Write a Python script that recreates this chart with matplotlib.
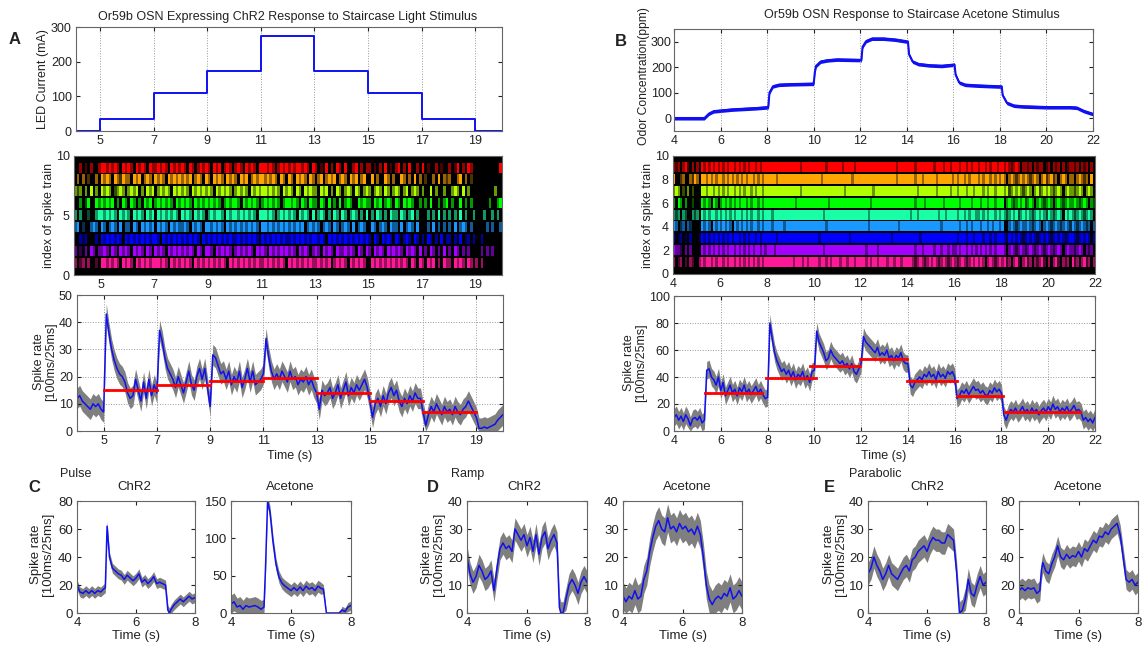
import numpy as np
import matplotlib
matplotlib.use("Agg")
import matplotlib.pyplot as plt

plt.rcParams['font.family'] = ['Liberation Sans', 'DejaVu Sans']
plt.rcParams['font.size'] = 9

# ---------------- DATA ----------------
# Panel A stimulus (LED current steps)
a_step_t = [4.0, 5, 7, 9, 11, 13, 15, 17, 19, 20]
a_step_mA = [0, 35, 110, 174, 274, 174, 110, 35, 0, 0]

# Panel B stimulus (acetone concentration keyframes)
b_stim_t = [4.0, 5.3, 5.5, 5.7, 6.5, 7.5, 8.05, 8.1, 8.25, 8.5, 9.0, 10.0, 10.05, 10.1, 10.3, 10.6,
            11.0, 12.05, 12.1, 12.25, 12.5, 13.0, 13.5, 14.05, 14.1, 14.25, 14.5, 15.0, 15.5, 16.05,
            16.1, 16.25, 16.5, 17.0, 18.08, 18.12, 18.3, 18.6, 19.0, 20.0, 21.0, 21.3, 21.6, 22.0]
b_stim_ppm = [0, 0, 18, 27, 34, 39, 43, 100, 125, 131, 133, 135, 180, 205, 222, 227,
              230, 228, 280, 302, 312, 312, 308, 300, 250, 222, 212, 207, 205, 210,
              170, 140, 131, 128, 124, 90, 60, 49, 46, 43, 43, 41, 28, 16]

# Panel A spike rate (0.1 s samples from 4.0 to 20.0 s)
a_rate = [12, 13, 11, 10, 9, 8, 10, 9, 10, 8,
          7, 43, 36, 30, 26, 23, 21, 20, 18, 14,
          12, 13, 19, 15, 11, 18, 12, 19, 13, 17,
          14, 37, 33, 27, 23, 21, 19, 16, 20, 17,
          14, 18, 22, 17, 15, 20, 23, 19, 23, 16,
          9, 28, 27, 24, 21, 22, 19, 22, 17, 20,
          18, 22, 16, 19, 23, 18, 22, 17, 18, 19,
          21, 34, 27, 22, 19, 21, 19, 22, 20, 18,
          22, 19, 20, 17, 19, 18, 20, 17, 19, 16,
          14, 8, 15, 13, 14, 16, 12, 14, 17, 12,
          15, 18, 13, 16, 14, 17, 15, 17, 19, 16,
          11, 5, 10, 12, 9, 13, 10, 14, 16, 13,
          15, 11, 9, 12, 10, 13, 11, 14, 12, 12,
          7, 2, 6, 9, 7, 10, 8, 6, 9, 7,
          8, 6, 9, 7, 6, 8, 9, 11, 9, 7,
          5, 1, 1, 1.5, 1, 1.5, 2, 2.5, 4, 5,
          6]
a_band = 3.8
a_mean_start = [5, 7, 9, 11, 13, 15, 17]
a_mean_end = [7, 9, 11, 13, 15, 17, 19]
a_mean_val = [15, 17, 18.5, 19.5, 14, 11, 7]

# Panel B spike rate (0.1 s samples from 4.0 to 22.0 s)
b_rate = [10, 12, 8, 11, 7, 12, 9, 4, 9, 10,
          8, 11, 6, 8, 45, 46, 40, 38, 34, 40,
          30, 36, 26, 30, 34, 28, 31, 26, 32, 29,
          34, 28, 31, 27, 30, 33, 28, 31, 27, 24,
          25, 80, 68, 58, 52, 48, 44, 46, 42, 45,
          40, 44, 38, 42, 40, 44, 38, 41, 36, 44,
          45, 74, 66, 62, 58, 52, 54, 60, 56, 54,
          52, 50, 52, 48, 50, 46, 50, 44, 42, 46,
          50, 70, 66, 64, 62, 60, 58, 62, 56, 58,
          56, 60, 54, 56, 52, 56, 54, 58, 52, 50,
          50, 34, 32, 36, 38, 40, 38, 42, 40, 44,
          40, 42, 38, 44, 40, 42, 39, 44, 42, 44,
          40, 24, 26, 30, 28, 31, 27, 30, 33, 30,
          31, 28, 30, 27, 26, 30, 28, 32, 29, 31,
          28, 12, 8, 13, 16, 14, 17, 13, 15, 18,
          14, 16, 13, 17, 14, 16, 12, 15, 17, 14,
          18, 15, 20, 16, 18, 14, 17, 15, 18, 14,
          16, 19, 15, 16, 14, 8, 10, 7, 9, 6,
          10]
b_band = 6.5
b_mean_start = [5.31, 7.95, 9.8, 11.97, 13.97, 16.08, 18.15]
b_mean_end = [7.78, 10.05, 11.97, 13.97, 16.08, 18.05, 21.36]
b_mean_val = [28, 39, 48, 53.5, 37, 26, 14]

# Raster rows (0.1 s bins; ' '=none, '.'=dim, '+'=medium, '#'=bright), bottom row first
raster_levels = {' ': 0.0, '.': 0.3, '+': 0.6, '#': 1.0}
raster_colors = [(1.0, 0.1, 0.6), (0.65, 0.0, 1.0), (0.0, 0.0, 1.0), (0.1, 0.6, 1.0), (0.1, 1.0, 0.65),
                 (0.0, 1.0, 0.0), (0.7, 1.0, 0.0), (1.0, 0.65, 0.0), (1.0, 0.0, 0.0)]
a_raster = [
    ("+ .+ +  . " "##+#+#+ #+" "#+ #+#+#+#" "##+#+ #+#+" "#+#+ #+#+#" "+#+#+#+ #+" "#+#+#+#+#+" "+#+#+#+#+ "
     "#+#+#+#+#+" "+#+#+# +#+" "#+ #+#+#+ " " #+#+#+#+#" "+#+#+ #+ #" "+ #+# + #+" "+ #+#+ #+ " "+ +       "),
    ("+ . + #+ +" "+#+ #+ #+#" "+ #+#+ #+ " "#+#+ #+#+#" "+#+#+ #+ #" "#+ #+#+#+ " "+#+#+#+ #+" "#+ #+#+#+#"
     "+#+ #+#+ +" "#+ #+#+ #+" "+#+#+ #+ #" "+ #+#+ #+#" "+#+ #+#+ #" " + #+ + # " "+ #+ + +  " "  + + +   "),
    ("  +.+   + " "#+#+#+#+ #" "+#+#+#+#+#" "#+ #+#+#+#" "+#+#+#+ #+" "#+#+#+#+#+" "+#+#+#+#+ " "#+#+#+#+#+"
     "+#+#+#+#+#" "#+#+ #+#+#" "+#+#+#+#+#" "+ #+ #+#+ " "#+ +#+ #+ " "+ #+ + # +" "+ + # .+ +" "  +       "),
    ("+# .  +#+ " "#+ +#+ # +" "+ #+ #+#+#" " #+#+ #+#+" "+#+ #+#+ #" "#+#+#+ #+#" "+#+#+#+#+ " "##+#+#+#+#"
     "+#+#+# +#+" "#+ +#+ #+ " "+#+ # +#+ " " #+ +#+ #+" "+ # +#+ # " "  + # + + " "+ # +#+ + " "    + +  +"),
    ("+ +  .  +#" "#+#+#+ #+#" "+ #+#+ #+#" " #+#+#+#+ " "#+#+ #+#+ " "+#+##+ #+#" "#+#+#+#+ #" "##+#+ +#+#"
     "+#+ #+#+ #" " +#+ + #+ " "#+ +#+ + #" " + #+ + #+" "+ #+ +# + " "  + + # + " "+ + # +  +" "   +  + + "),
    ("  + .#  #+" "#+#+# + #+" " #+ + #+# " "+#+#+#+ #+" "#+#+ #+#+#" "+#+#+ +#+#" "#+ #+#+#+ " "+#+#+#+ +#"
     "#+#+ #+ #+" "+ #+ # + #" " +#+  #+#+" "+ #+# +#+ " "#+ #+#+  +" " + #  + +#" " +  # + + " "     +  +#"),
    ("+.+ + # + " "#+#+ .+#+ " "+#+# + #+#" " +#+#+ #+#" "+#+ #+#+#+" "#+ #+#+#+ " "+#+#+ #+#+" "##+#+#+ #+"
     "#+ #+ #+#+" "+ #+# + #+" " +#+ #+ +#" "+ +#+ #+ +" "#+ +# +#+ " "+  # +  + " " +#+ # +  " "       +  "),
    (" + + .  + " "#+#+ #+.#+" "+ #+# +#+ " "#+#+ #+#+#" "+#+# +#+ #" "+ #+#+ #+#" "+ #+# +#+#" "#+#+#+ #+ "
     "#+ #+#+ #+" " +# +#+# +" "#+ #+# +# " " # +  #+ +" "  #+ + # +" " .  + # +." "+  +# + . " "          "),
    ("  + . +  +" "##+#+#+ #+" "#+ #+#+ #+" "+#+#+ #+#+" "#+ #+ +#+#" "+ #+# +#+ " "+#+ #+#+ #" "##+#+ +#+#"
     "+#+##+#+ #" "+ . # + #+" " #  +# + +" "+ . + # . " "+# + #  + " "# .  + .  " "+ .# + #+ " "         #"),
]
b_raster = [
    ("+ .+ . +. " " +#+##+#+#" "#+#+##+#+#" "+#+#+#+#+#" "##########" "#+###+#+##" "##+##+#+##" "#+##+##+##" "##+#+##+##"
     "#+##+##+##" "##+.+#+.+#" "+#+.+#+.+#" "+.+#+.+#+#" "+#+ +#+.+#" "+#.+ +#. +" "#.+ +.+#. " "+ +#. +.+ " "#.+ +#.+ +"),
    ("#++. + +  " "  #+#+#+#+" "#+#+##+#+#" "+#+#+##+#+" "###+######" "##########" "####+#####" "##########" "##+####+##"
     "##########" "###+##+###" "#+##+##+#+" "+#+##+#+#+" "#+#+#+#+##" "#+ +#+.+#+" ".+#+.+#+.+" "#+.+#+ +#+" "+.+#+ +.+ "),
    ("+ .+ . +  " " .#+#+#+#+" "#+#+#+##+#" "+#+##+#+##" "####+#####" "##########" "##+#######" "#####+####" "##########"
     "###+######" "#####+####" "##########" "#+###+##+#" "##+##+#+##" "#+.#+#+#+." "+#+#+.+#+#" "+.+#+#+.+#" "#+.+#+#+ +"),
    ("#+ .+ +.  " "  #+#+ #+#" "+#+#+ #+#+" "#+#+##+#+#" "##+####+##" "##########" "#####+####" "##########" "###+######"
     "######+###" "##########" "####+#####" "##+##+#+##" "#+##+#+##+" "#  +#+.+#+" "+#+.+#+ +#" "+.+#+.+#+." "#+.+#+.+ +"),
    ("+.+ +.  +." "+ #+#+##+#" "+#+#+#+##+" "#+#+##+#+#" "##+#######" "##########" "####+#####" "##########" "###+######"
     "##########" "#+##+#####" "###+##+###" "#+##+#+##+" "+#+#+##+#+" "#+.+#+#.+#" "+#+.+#+#+." "#+.+#+ #+#" "+.+#+.+#+ "),
    ("+ #+ +  . " "  #+#+ #+ " "+#+#+#+#+#" "#+#+##+#+#" "##########" "##+#######" "######+###" "##########" "####+#####"
     "##########" "###+###+##" "#####+####" "##+####+##" "#+##+##+##" "# +#+.+#+#" ".+#+ +#+.+" "#+ +#+.+#+" "+#+.+#+ +."),
    ("+#+ . + . " "  ##+##+#+" "#+#+##+#+#" "+##+#+##+#" "##########" "####+#####" "##########" "###+######" "#####+####"
     "##########" "####+#####" "##+#####+#" "#+###+##+#" "##+#+##+##" "#+#.+#+#+." "+#+ +#.+#+" "#+.+#+ +#+" "+.+#+ +#+ "),
    ("#  .+  +.#" "+ ##+#+#+#" "#+#+#+#+#+" "#+##+#+#+#" "####+#####" "##########" "###+######" "######+###" "##########"
     "#####+####" "###+##+###" "##+######+" "#+##+#+###" "+#+##+#+#+" "#+ +#+.+#+" "#+.+#+ +#." "+#.+ +#+ +" "+ +#+.+ # "),
    ("+.+ +#. + " "+ #+#+#+#+" "#+#+##+#+#" "+#+##+#+##" "##########" "####+#####" "#####+####" "##+####+##" "##########"
     "#####+####" "###+######" "#+###+##+#" "##+##+#+##" "+##+#+##+#" "#+#+.+#+ +" "+.+ +.++ ." "+ +.+ + .+" "+.+ +.+ + "),
]

# Small panels (time, rate, band half-width)
c_chr2_t = [4.0, 4.1, 4.2, 4.3, 4.4, 4.5, 4.6, 4.7, 4.8, 4.9, 4.96, 5.02, 5.1, 5.2, 5.3, 5.4, 5.5, 5.6, 5.7, 5.8,
            5.9, 6.0, 6.1, 6.2, 6.3, 6.4, 6.5, 6.6, 6.7, 6.8, 6.9, 7.0, 7.08, 7.13, 7.2, 7.3, 7.4, 7.5, 7.6, 7.7,
            7.8, 7.9, 8.0]
c_chr2_r = [20, 15, 14, 16, 14, 16, 14, 16, 15, 17, 18, 62, 40, 32, 30, 28, 27, 24, 27, 25,
            23, 25, 28, 22, 24, 21, 23, 26, 21, 22, 21, 20, 2, 0, 3, 6, 8, 10, 8, 10,
            12, 10, 11]
c_chr2_w = 3.5
c_ace_t = [4.0, 4.1, 4.2, 4.3, 4.4, 4.5, 4.6, 4.7, 4.8, 4.9, 5.0, 5.1, 5.15, 5.22, 5.3, 5.4, 5.5, 5.6, 5.7, 5.8,
           5.9, 6.0, 6.1, 6.2, 6.3, 6.4, 6.5, 6.6, 6.7, 6.8, 6.9, 7.0, 7.08, 7.18, 7.6, 7.7, 7.8, 7.9, 8.0]
c_ace_r = [12, 15, 8, 10, 5, 10, 8, 9, 10, 8, 5, 8, 60, 150, 135, 95, 65, 48, 40, 36,
           33, 30, 34, 30, 35, 30, 36, 32, 34, 30, 36, 33, 32, 0, 0, 4, 2, 8, 10]
c_ace_w = [12, 12, 12, 12, 12, 12, 12, 12, 12, 12, 12, 10, 8, 8, 8, 8, 8, 8, 8, 8,
           8, 8, 8, 8, 8, 8, 8, 8, 8, 8, 8, 8, 6, 0, 0, 5, 5, 6, 6]
d_chr2_t = [4.0, 4.1, 4.2, 4.3, 4.4, 4.5, 4.6, 4.7, 4.8, 4.9, 5.0, 5.1, 5.2, 5.3, 5.4, 5.5, 5.6, 5.7, 5.8, 5.9,
            6.0, 6.1, 6.2, 6.3, 6.4, 6.5, 6.6, 6.7, 6.8, 6.9, 7.0, 7.08, 7.13, 7.2, 7.3, 7.4, 7.5, 7.6, 7.7, 7.8,
            7.9, 8.0]
d_chr2_r = [20, 14, 11, 13, 17, 15, 12, 13, 15, 8, 16, 23, 25, 23, 24, 22, 30, 28, 26, 28,
            24, 27, 22, 28, 21, 27, 29, 23, 26, 28, 25, 2, 0, 0, 5, 10, 12, 10, 7, 11,
            13, 11]
d_chr2_w = 4
d_ace_t = [4.0, 4.1, 4.2, 4.3, 4.4, 4.5, 4.6, 4.7, 4.8, 4.9, 5.0, 5.1, 5.2, 5.3, 5.4, 5.5, 5.6, 5.7, 5.8, 5.9,
           6.0, 6.1, 6.2, 6.3, 6.4, 6.5, 6.6, 6.7, 6.8, 6.9, 7.0, 7.1, 7.2, 7.3, 7.4, 7.5, 7.6, 7.7, 7.8, 7.9, 8.0]
d_ace_r = [6, 4, 6, 5, 8, 5, 6, 12, 15, 22, 27, 31, 33, 30, 29, 34, 30, 31, 29, 32,
           30, 31, 29, 30, 28, 31, 28, 20, 10, 5, 3, 5, 6, 5, 7, 6, 9, 5, 6, 8, 6]
d_ace_w = 5
e_chr2_t = [4.0, 4.1, 4.2, 4.3, 4.4, 4.5, 4.6, 4.7, 4.8, 4.9, 5.0, 5.1, 5.2, 5.3, 5.4, 5.5, 5.6, 5.7, 5.8, 5.9,
            6.0, 6.1, 6.2, 6.3, 6.4, 6.5, 6.6, 6.7, 6.8, 6.9, 7.0, 7.1, 7.2, 7.3, 7.4, 7.5, 7.6, 7.7, 7.8, 7.9, 8.0]
e_chr2_r = [14, 16, 20, 17, 15, 12, 14, 17, 14, 13, 12, 14, 16, 17, 15, 19, 20, 22, 23, 24,
            22, 25, 27, 26, 26, 25, 25, 28, 27, 26, 15, 0, 1, 5, 12, 7, 6, 10, 13, 10, 11]
e_chr2_w = 4
e_ace_t = [4.0, 4.1, 4.2, 4.3, 4.4, 4.5, 4.6, 4.7, 4.75, 4.8, 4.9, 5.0, 5.1, 5.2, 5.3, 5.4, 5.5, 5.6, 5.7, 5.8, 5.9,
           6.0, 6.1, 6.2, 6.3, 6.4, 6.5, 6.6, 6.7, 6.8, 6.9, 7.0, 7.1, 7.2, 7.3, 7.4, 7.5, 7.6, 7.7, 7.8, 7.9, 8.0]
e_ace_r = [16, 18, 16, 18, 17, 18, 14, 16, 30, 36, 30, 28, 35, 40, 48, 40, 38, 42, 39, 41, 40,
           44, 40, 46, 44, 48, 52, 50, 55, 54, 58, 56, 60, 62, 64, 56, 40, 24, 22, 24, 20, 22]
e_ace_w = 7

# ---------------- FIGURE ----------------
W, H = 1147, 646
fig = plt.figure(figsize=(W / 100, H / 100), dpi=100)
fig.patch.set_facecolor('white')

BLUE = '#1010f0'
GRAY = '#7f7f7f'
TXT = '#222222'


def axpx(l, t, r, b):
    return fig.add_axes([l / W, 1 - b / H, (r - l) / W, (b - t) / H])


def ftext(x, y, s, **kw):
    fig.text(x / W, 1 - y / H, s, color=TXT, **kw)


def style(ax):
    ax.tick_params(direction='in', length=3, top=True, right=True, labelsize=9, colors=TXT, pad=3)
    for sp in ax.spines.values():
        sp.set_color('#666666')
        sp.set_linewidth(0.8)


def draw_raster(ax, rows, t0, dt):
    ax.set_facecolor('black')
    for i, s in enumerate(rows):
        lv = np.array([raster_levels[c] for c in s])
        rgb = np.array(raster_colors[i])[None, :] * lv[:, None]
        ax.imshow(rgb[None, :, :], extent=[t0, t0 + len(s) * dt, i + 1 - 0.39, i + 1 + 0.39],
                  aspect='auto', interpolation='nearest')


def trace(ax, t, r, w):
    t = np.asarray(t, float)
    r = np.asarray(r, float)
    w = np.asarray(w, float) * np.ones_like(r)
    ax.fill_between(t, np.clip(r - w, 0, None), r + w, color=GRAY, lw=0)
    ax.plot(t, r, color=BLUE, lw=1.1)


# Panel A stimulus
ax = axpx(76, 27, 502, 131)
style(ax)
ax.step(a_step_t, a_step_mA, where='post', color=BLUE, lw=1.4)
ax.set_xlim(4.1, 20)
ax.set_ylim(0, 300)
ax.set_xticks(range(5, 20, 2))
ax.set_yticks([0, 100, 200, 300])
ax.grid(axis='x', ls=':', color='#999999', lw=0.7)

# Panel B stimulus
ax = axpx(674, 29, 1093, 131)
style(ax)
ax.tick_params(axis='y', pad=1.5)
ax.fill_between(b_stim_t, np.array(b_stim_ppm) - 7, np.array(b_stim_ppm) + 7, color=BLUE, lw=0)
ax.plot(b_stim_t, b_stim_ppm, color=BLUE, lw=1.5)
ax.set_xlim(4, 22)
ax.set_ylim(-50, 350)
ax.set_xticks(range(4, 23, 2))
ax.set_yticks([0, 100, 200, 300])
ax.grid(axis='x', ls=':', color='#999999', lw=0.7)

# Panel A raster
ax = axpx(74, 156, 502, 275)
style(ax)
draw_raster(ax, a_raster, 4.0, 0.1)
ax.set_xlim(4, 20)
ax.set_ylim(0, 10)
ax.set_xticks(range(5, 20, 2))
ax.set_yticks([0, 5, 10])
ax.tick_params(length=0)

# Panel B raster
ax = axpx(673, 156, 1095, 274)
style(ax)
draw_raster(ax, b_raster, 4.0, 0.1)
ax.set_xlim(4, 22)
ax.set_ylim(0, 10)
ax.set_xticks(range(4, 23, 2))
ax.set_yticks(range(0, 11, 2))
ax.tick_params(length=0)

# Panel A rate
ax = axpx(77, 295, 503, 431)
style(ax)
ta = 4.0 + 0.1 * np.arange(len(a_rate))
trace(ax, ta, a_rate, a_band)
for s, e, v in zip(a_mean_start, a_mean_end, a_mean_val):
    ax.plot([s, e], [v, v], color='#ff0000', lw=2)
ax.set_xlim(4, 20)
ax.set_ylim(0, 50)
ax.set_xticks(range(5, 20, 2))
ax.set_yticks(range(0, 51, 10))
ax.grid(ls=':', color='#999999', lw=0.7)

# Panel B rate
ax = axpx(674, 296, 1095, 431)
style(ax)
tb = 4.0 + 0.1 * np.arange(len(b_rate))
trace(ax, tb, b_rate, b_band)
for s, e, v in zip(b_mean_start, b_mean_end, b_mean_val):
    ax.plot([s, e], [v, v], color='#ff0000', lw=2)
ax.set_xlim(4, 22)
ax.set_ylim(0, 100)
ax.set_xticks(range(4, 23, 2))
ax.set_yticks(range(0, 101, 20))
ax.grid(ls=':', color='#999999', lw=0.7)

# Small panels
small = [
    ((77, 195), c_chr2_t, c_chr2_r, c_chr2_w, (0, 80), [0, 20, 40, 60, 80]),
    ((231, 351), c_ace_t, c_ace_r, c_ace_w, (0, 150), [0, 50, 100, 150]),
    ((467, 587), d_chr2_t, d_chr2_r, d_chr2_w, (0, 40), [0, 10, 20, 30, 40]),
    ((623, 742), d_ace_t, d_ace_r, d_ace_w, (0, 40), [0, 10, 20, 30, 40]),
    ((868, 986), e_chr2_t, e_chr2_r, e_chr2_w, (0, 40), [0, 10, 20, 30, 40]),
    ((1019, 1138), e_ace_t, e_ace_r, e_ace_w, (0, 80), [0, 20, 40, 60, 80]),
]
for (l, r), t, y, w, yl, yt in small:
    ax = axpx(l, 501, r, 613)
    style(ax)
    ax.tick_params(labelsize=9.5)
    trace(ax, t, y, w)
    ax.set_xlim(4, 8)
    ax.set_ylim(*yl)
    ax.set_xticks([4, 6, 8])
    ax.set_yticks(yt)
    ftext((l + r) / 2, 636, 'Time (s)', ha='center', va='center', fontsize=9.5)

# ---------------- TEXT ----------------
ftext(15, 39, 'A', fontsize=12, fontweight='bold', ha='center', va='center')
ftext(621, 41, 'B', fontsize=12, fontweight='bold', ha='center', va='center')
ftext(288, 17, 'Or59b OSN Expressing ChR2 Response to Staircase Light Stimulus', ha='center', va='center', fontsize=9)
ftext(912, 15, 'Or59b OSN Response to Staircase Acetone Stimulus', ha='center', va='center', fontsize=9)

ftext(43, 79, 'LED Current (mA)', rotation=90, ha='center', va='center', fontsize=9)
ftext(644, 76, 'Odor Concentration(ppm)', rotation=90, ha='center', va='center', fontsize=8.7)
ftext(49, 215, 'index of spike train', rotation=90, ha='center', va='center', fontsize=9)
ftext(648, 215, 'index of spike train', rotation=90, ha='center', va='center', fontsize=9)
ftext(45, 362, 'Spike rate\n[100ms/25ms]', rotation=90, ha='center', va='center', fontsize=9, linespacing=1.05)
ftext(635, 363, 'Spike rate\n[100ms/25ms]', rotation=90, ha='center', va='center', fontsize=9, linespacing=1.05)
ftext(290, 456, 'Time (s)', ha='center', va='center', fontsize=9)
ftext(884, 456, 'Time (s)', ha='center', va='center', fontsize=9)

ftext(42, 554, 'Spike rate\n[100ms/25ms]', rotation=90, ha='center', va='center', fontsize=9.5, linespacing=1.05)
ftext(433, 554, 'Spike rate\n[100ms/25ms]', rotation=90, ha='center', va='center', fontsize=9.5, linespacing=1.05)
ftext(835, 554, 'Spike rate\n[100ms/25ms]', rotation=90, ha='center', va='center', fontsize=9.5, linespacing=1.05)

ftext(34, 487, 'C', fontsize=12, fontweight='bold', ha='center', va='center')
ftext(433, 488, 'D', fontsize=12, fontweight='bold', ha='center', va='center')
ftext(829, 488, 'E', fontsize=12, fontweight='bold', ha='center', va='center')
ftext(60, 474, 'Pulse', ha='left', va='center', fontsize=9)
ftext(451, 474, 'Ramp', ha='left', va='center', fontsize=9)
ftext(849, 474, 'Parabolic', ha='left', va='center', fontsize=9)
for x, s in [(134, 'ChR2'), (290, 'Acetone'), (524, 'ChR2'), (687, 'Acetone'), (927, 'ChR2'), (1078, 'Acetone')]:
    ftext(x, 487, s, ha='center', va='center', fontsize=9.5)

fig.savefig('out.png', dpi=100)
